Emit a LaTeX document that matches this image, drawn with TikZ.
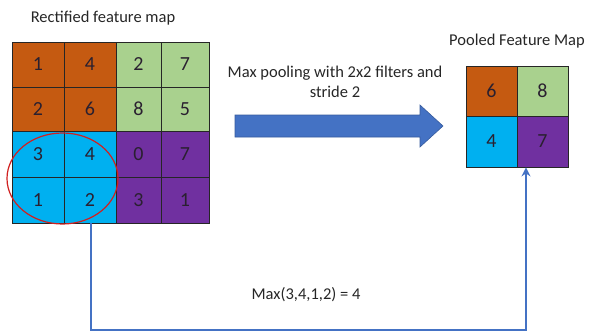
\documentclass[tikz,border=0pt]{standalone}
\usepackage{fontspec}
\setmainfont{Carlito}
\usetikzlibrary{arrows.meta,shapes.geometric}
\definecolor{cor}{HTML}{C55A11}
\definecolor{cgr}{HTML}{A9D18E}
\definecolor{ccy}{HTML}{00B0F0}
\definecolor{cpu}{HTML}{7030A0}
\definecolor{cbl}{HTML}{4472C4}
\definecolor{cred}{HTML}{D02020}
\definecolor{ctx}{HTML}{2A2030}
\begin{document}
\begin{tikzpicture}[x=1pt,y=-1pt,
  cell/.style={draw=black!85,line width=0.8pt,minimum width=#1,inner sep=0pt,font=\fontsize{20}{20}\selectfont,text=ctx},
  lbl/.style={font=\fontsize{16.5}{20}\selectfont,text=black!85,align=center},
  conn/.style={draw=cbl,line width=2pt}]
\useasboundingbox (0,0) rectangle (589,332);
\def\cellA#1#2#3#4#5#6#7{\node[cell=#3,minimum height=#4,fill=#5] (#7) at (#1,#2) {#6};}
% left grid
\cellA{38}{64.5}{52pt}{45pt}{cor}{1}{a11}
\cellA{90}{64.5}{52pt}{45pt}{cor}{4}{a12}
\cellA{138.5}{64.5}{45pt}{45pt}{cgr}{2}{a13}
\cellA{185}{64.5}{48pt}{45pt}{cgr}{7}{a14}
\cellA{38}{109}{52pt}{44pt}{cor}{2}{a21}
\cellA{90}{109}{52pt}{44pt}{cor}{6}{a22}
\cellA{138.5}{109}{45pt}{44pt}{cgr}{8}{a23}
\cellA{185}{109}{48pt}{44pt}{cgr}{5}{a24}
\cellA{38}{154}{52pt}{46pt}{ccy}{3}{a31}
\cellA{90}{154}{52pt}{46pt}{ccy}{4}{a32}
\cellA{138.5}{154}{45pt}{46pt}{cpu}{0}{a33}
\cellA{185}{154}{48pt}{46pt}{cpu}{7}{a34}
\cellA{38}{200}{52pt}{46pt}{ccy}{1}{a41}
\cellA{90}{200}{52pt}{46pt}{ccy}{2}{a42}
\cellA{138.5}{200}{45pt}{46pt}{cpu}{3}{a43}
\cellA{185}{200}{48pt}{46pt}{cpu}{1}{a44}
\node[draw=cred,line width=1.2pt,ellipse,minimum width=111pt,minimum height=91pt,inner sep=0pt] (ell) at (62.5,178.5) {};
\node[lbl] (t1) at (103,18) {Rectified feature map};
% pooled grid
\cellA{491.5}{91}{51pt}{50pt}{cor}{6}{p11}
\cellA{542.5}{91}{51pt}{50pt}{cgr}{8}{p12}
\cellA{491.5}{141.5}{51pt}{51pt}{ccy}{4}{p21}
\cellA{542.5}{141.5}{51pt}{51pt}{cpu}{7}{p22}
\node[lbl] (t2) at (517,41) {Pooled Feature Map};
% big arrow
\node[lbl] (t3) at (335,82) {Max pooling with 2x2 filters and\\stride 2};
\fill[cbl,draw=cbl!80!black,line width=0.6pt] (235,115) -- (420,115) -- (420,105) -- (443,126) -- (420,147) -- (420,137) -- (235,137) -- cycle;
% connector
\coordinate (c1) at (91,330);
\coordinate (c2) at (526,330);
\draw[conn,-{Stealth[length=9pt,width=9pt]}] (c1 |- a42.south) -- (c1) -- (c2) -- (c2 |- p22.south);
\node[lbl] (t4) at (306,295) {Max(3,4,1,2) = 4};
\end{tikzpicture}
\end{document}
